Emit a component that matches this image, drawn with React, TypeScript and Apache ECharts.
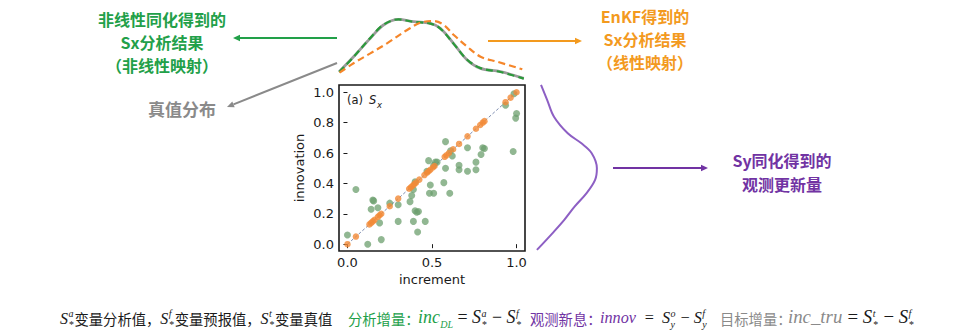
import React, { useEffect, useRef } from "react";
import * as echarts from "echarts";

const W = 957;
const H = 334;

// ---- main scatter data (panel a, S_x) ----
const nonlinX = [0.0, 0.05, 0.12, 0.14, 0.15, 0.155, 0.18, 0.19, 0.2, 0.25, 0.3, 0.3, 0.37, 0.38, 0.39, 0.39, 0.4, 0.41, 0.42, 0.415, 0.4, 0.46, 0.47, 0.48, 0.49, 0.485, 0.51, 0.52, 0.51, 0.53, 0.57, 0.58, 0.58, 0.605, 0.61, 0.62, 0.66, 0.66, 0.71, 0.71, 0.76, 0.76, 0.8, 0.79, 0.81, 0.935, 0.98, 1.0, 0.995, 0.985];
const nonlinY = [0.06, 0.36, 0.0, 0.23, 0.29, 0.285, 0.24, 0.14, 0.03, 0.27, 0.15, 0.26, 0.28, 0.32, 0.15, 0.36, 0.22, 0.21, 0.215, 0.08, 0.41, 0.15, 0.48, 0.55, 0.39, 0.335, 0.335, 0.54, 0.52, 0.54, 0.405, 0.5, 0.675, 0.335, 0.615, 0.58, 0.52, 0.49, 0.635, 0.48, 0.49, 0.54, 0.635, 0.59, 0.63, 0.915, 0.61, 0.86, 0.83, 0.99];
const enkfX = [0.0, 0.05, 0.13, 0.14, 0.15, 0.16, 0.18, 0.19, 0.2, 0.25, 0.3, 0.365, 0.375, 0.385, 0.395, 0.405, 0.425, 0.455, 0.47, 0.48, 0.49, 0.505, 0.515, 0.575, 0.585, 0.6, 0.625, 0.66, 0.71, 0.76, 0.785, 0.8, 0.81, 0.935, 0.965, 1.0];
const enkfY = [0.0, 0.05, 0.13, 0.14, 0.15, 0.16, 0.18, 0.19, 0.2, 0.25, 0.3, 0.365, 0.375, 0.385, 0.395, 0.405, 0.425, 0.455, 0.47, 0.48, 0.49, 0.505, 0.515, 0.575, 0.585, 0.6, 0.625, 0.66, 0.71, 0.76, 0.785, 0.8, 0.81, 0.935, 0.965, 1.0];
const diagX = [0, 1];
const diagY = [0, 1];

// ---- top marginal densities (over increment) ----
const topKdeX = [-0.049, 0.036, 0.135, 0.213, 0.302, 0.391, 0.49, 0.549, 0.627, 0.708, 0.787, 0.905, 1.043];
const trueKde = [0.119, 0.333, 0.596, 0.786, 0.867, 0.833, 0.81, 0.739, 0.524, 0.286, 0.167, 0.119, 0.024];
const nonlinKde = [0.114, 0.329, 0.6, 0.79, 0.866, 0.83, 0.806, 0.735, 0.52, 0.29, 0.17, 0.114, 0.02];
const enkfKdeX = [-0.047, 0.036, 0.135, 0.234, 0.353, 0.432, 0.511, 0.57, 0.629, 0.708, 0.787, 0.886, 1.034];
const enkfKde = [0.104, 0.239, 0.381, 0.524, 0.714, 0.819, 0.843, 0.786, 0.643, 0.476, 0.333, 0.261, 0.153];

// ---- right marginal density (over innovation) ----
const innovKdeY = [1.049, 0.949, 0.839, 0.73, 0.664, 0.599, 0.5, 0.423, 0.336, 0.247, 0.16, 0.083, -0.038];
const innovKde = [0.153, 0.239, 0.333, 0.524, 0.714, 0.857, 0.929, 0.904, 0.786, 0.619, 0.476, 0.333, 0.096];

// ---- ticks ----
const xTicks = [0, 0.5, 1.0];
const yTicks = [0, 0.2, 0.4, 0.6, 0.8, 1.0];

const zip = (a: number[], b: number[]) => a.map((v, i) => [v, b[i]]);

const GREEN = "#22a049";
const ORANGE = "#f39a1e";
const PURPLE = "#7133a3";
const GREY = "#8a8a8a";
const INK = "#1a1a1a";

const CJK = "'Noto Sans CJK SC', sans-serif";
const SERIF = "'Liberation Serif', 'DejaVu Serif', serif";

type Seg = { t: string; k: "c" | "m" | "r" | "p" | "b"; c?: string };

// bottom caption: runs of text, each with its own start (and optional end for math runs)
const captionDefs: Seg[] = [
  { t: "S", k: "m" }, { t: "a", k: "p" }, { t: "*", k: "b" }, { t: "变量分析值，", k: "c" },
  { t: "S", k: "m" }, { t: "f", k: "p" }, { t: "*", k: "b" }, { t: "变量预报值，", k: "c" },
  { t: "S", k: "m" }, { t: "t", k: "p" }, { t: "*", k: "b" }, { t: "变量真值", k: "c" },
];
const captionInc: Seg[] = [
  { t: "inc", k: "m", c: GREEN }, { t: "DL", k: "b", c: GREEN },
  { t: " = ", k: "r" }, { t: "S", k: "m" }, { t: "a", k: "p" }, { t: "*", k: "b" },
  { t: " − ", k: "r" }, { t: "S", k: "m" }, { t: "f", k: "p" }, { t: "*", k: "b" },
];
const captionInnov: Seg[] = [
  { t: "innov", k: "m", c: PURPLE },
  { t: "  =  ", k: "r" }, { t: "S", k: "m" }, { t: "o", k: "p" }, { t: "y", k: "b" },
  { t: " − ", k: "r" }, { t: "S", k: "m" }, { t: "f", k: "p" }, { t: "y", k: "b" },
];
const captionTru: Seg[] = [
  { t: "inc_tru", k: "m", c: GREY },
  { t: " = ", k: "r" }, { t: "S", k: "m" }, { t: "t", k: "p" }, { t: "*", k: "b" },
  { t: " − ", k: "r" }, { t: "S", k: "m" }, { t: "f", k: "p" }, { t: "*", k: "b" },
];

function segStyle(k: Seg["k"], m: number) {
  switch (k) {
    case "c": return { family: CJK, size: 14.3, italic: false, dy: 0 };
    case "m": return { family: SERIF, size: 16 * m, italic: true, dy: 0 };
    case "r": return { family: SERIF, size: 16 * m, italic: false, dy: 0 };
    case "p": return { family: SERIF, size: 10, italic: true, dy: -7.5 };
    case "b": return { family: SERIF, size: 10, italic: true, dy: 3.5 };
  }
}

let measureCtx: CanvasRenderingContext2D | null = null;
function measure(t: string, st: any) {
  if (!measureCtx) measureCtx = document.createElement("canvas").getContext("2d")!;
  measureCtx.font = `${st.italic ? "italic " : ""}${st.size}px ${st.family}`;
  return measureCtx.measureText(t).width;
}

function layoutRun(segs: Seg[], x0: number, baseline: number, m: number, out: any[] | null): number {
  let x = x0;
  const mk = (s: Seg, xx: number) => {
    const st = segStyle(s.k, m)!;
    if (out) {
      out.push({
        type: "text", x: xx, y: baseline + st.dy,
        style: {
          text: s.t, fontFamily: st.family, fontSize: st.size,
          fontStyle: st.italic ? "italic" : "normal",
          fill: s.c || INK, align: "left", verticalAlign: "bottom",
        },
      });
    }
    return measure(s.t, st);
  };
  for (let i = 0; i < segs.length; i++) {
    const s = segs[i];
    if (s.k === "p" && segs[i + 1] && segs[i + 1].k === "b") {
      const w1 = mk(s, x);
      const w2 = mk(segs[i + 1], x);
      x += Math.max(w1, w2) + 1;
      i++;
      continue;
    }
    x += mk(s, x) + (s.k === "m" ? 0.5 : 0);
  }
  return x - x0;
}

// fit a math run between two x positions by scaling its main font size
function fitRun(segs: Seg[], x0: number, x1: number, baseline: number, out: any[]) {
  const w = layoutRun(segs, x0, baseline, 1, null);
  const m = Math.max(0.85, Math.min(1.2, (x1 - x0) / w));
  layoutRun(segs, x0, baseline, m, out);
}

function cjkText(t: string, x: number, baseline: number, color: string) {
  return {
    type: "text", x, y: baseline,
    style: { text: t, fontFamily: CJK, fontSize: 14.3, fill: color, align: "left", verticalAlign: "bottom" },
  };
}

function arrow(x1: number, y1: number, x2: number, y2: number, color: string, w = 2) {
  const ang = Math.atan2(y2 - y1, x2 - x1);
  const L = 7, hw = 3.2;
  const bx = x2 - L * Math.cos(ang), by = y2 - L * Math.sin(ang);
  const nx = -Math.sin(ang), ny = Math.cos(ang);
  return [
    { type: "line", shape: { x1, y1, x2: bx, y2: by }, style: { stroke: color, lineWidth: w } },
    {
      type: "polygon",
      shape: { points: [[x2, y2], [bx + nx * hw, by + ny * hw], [bx - nx * hw, by - ny * hw]] },
      style: { fill: color },
    },
  ];
}

export default function App() {
  const ref = useRef<HTMLDivElement>(null);
  useEffect(() => {
    document.body.style.margin = "0";
    const chart = echarts.init(ref.current!, null, { renderer: "svg" });
    const tickFont = { fontFamily: "'DejaVu Sans', sans-serif", fontSize: 13, color: INK };
    const BL = 326;
    const bottomTexts: any[] = [];
    layoutRun(captionDefs, 60, BL, 1, bottomTexts);
    bottomTexts.push(cjkText("分析增量：", 348, BL, GREEN));
    fitRun(captionInc, 418, 525, BL, bottomTexts);
    bottomTexts.push(cjkText("观测新息：", 530, BL, PURPLE));
    fitRun(captionInnov, 600, 708, BL, bottomTexts);
    bottomTexts.push(cjkText("目标增量：", 720, BL, GREY));
    fitRun(captionTru, 788, 917, BL, bottomTexts);

    const titleTexts: any[] = [
      { type: "text", x: 347, y: 106, style: { text: "(a) ", fontFamily: "'DejaVu Sans'", fontSize: 11.5, fill: INK, verticalAlign: "bottom" } },
      { type: "text", x: 369, y: 106, style: { text: "S", fontFamily: "'DejaVu Sans'", fontStyle: "italic", fontSize: 11.5, fill: INK, verticalAlign: "bottom" } },
      { type: "text", x: 377, y: 109, style: { text: "x", fontFamily: "'DejaVu Sans'", fontStyle: "italic", fontSize: 8.5, fill: INK, verticalAlign: "bottom" } },
    ];
    const annot: any[] = [
      {
        type: "text", x: 162, y: 42,
        style: { text: "非线性同化得到的\nSx分析结果\n（非线性映射）", fontFamily: CJK, fontWeight: "bold", fontSize: 16, lineHeight: 23.3, fill: GREEN, align: "center", verticalAlign: "middle" },
      },
      {
        type: "text", x: 182, y: 108,
        style: { text: "真值分布", fontFamily: CJK, fontWeight: "bold", fontSize: 17, fill: GREY, align: "center", verticalAlign: "middle" },
      },
      {
        type: "text", x: 645, y: 39,
        style: { text: "EnKF得到的\nSx分析结果\n（线性映射）", fontFamily: CJK, fontWeight: "bold", fontSize: 16, lineHeight: 23.3, fill: ORANGE, align: "center", verticalAlign: "middle" },
      },
      {
        type: "text", x: 782, y: 172,
        style: { text: "Sy同化得到的\n观测更新量", fontFamily: CJK, fontWeight: "bold", fontSize: 16, lineHeight: 23.3, fill: PURPLE, align: "center", verticalAlign: "middle" },
      },
      ...arrow(337, 38, 233, 38, GREEN),
      ...arrow(337, 63, 227, 107, GREY),
      ...arrow(488, 41, 582, 41, ORANGE),
      ...arrow(613, 168, 708, 168, PURPLE),
    ];
    const option: any = {
      animation: false,
      backgroundColor: "#ffffff",
      grid: [
        { left: 339, top: 85, width: 186, height: 166, show: true, borderColor: INK, borderWidth: 1.6, backgroundColor: "transparent" },
        { left: 339, top: 10, width: 186, height: 70 },
        { left: 530, top: 85, width: 72, height: 166 },
      ],
      xAxis: [
        {
          gridIndex: 0, type: "value", min: -0.05, max: 1.05,
          axisLine: { show: false }, splitLine: { show: false },
          axisTick: { show: true, customValues: xTicks, length: 4, lineStyle: { color: INK, width: 1 } },
          axisLabel: { customValues: xTicks, formatter: (v: number) => v.toFixed(1), margin: 5, ...tickFont },
          name: "increment", nameLocation: "middle", nameGap: 22,
          nameTextStyle: { ...tickFont },
        },
        { gridIndex: 1, type: "value", min: -0.05, max: 1.05, show: false },
        { gridIndex: 2, type: "value", min: 0, max: 1, show: false },
      ],
      yAxis: [
        {
          gridIndex: 0, type: "value", min: -0.045, max: 1.048,
          axisLine: { show: false }, splitLine: { show: false },
          axisTick: { show: true, customValues: yTicks, length: 4, lineStyle: { color: INK, width: 1 } },
          axisLabel: { customValues: yTicks, formatter: (v: number) => v.toFixed(1), margin: 5, ...tickFont },
          name: "innovation", nameLocation: "middle", nameGap: 33,
          nameTextStyle: { ...tickFont },
        },
        { gridIndex: 1, type: "value", min: 0, max: 1, show: false },
        { gridIndex: 2, type: "value", min: -0.045, max: 1.048, show: false },
      ],
      series: [
        {
          type: "line", xAxisIndex: 0, yAxisIndex: 0, data: zip(diagX, diagY), symbol: "none",
          lineStyle: { color: "#5a6f9a", width: 0.8, type: [3, 2] }, z: 1,
        },
        {
          type: "scatter", xAxisIndex: 0, yAxisIndex: 0, data: zip(nonlinX, nonlinY), symbolSize: 7,
          itemStyle: { color: "#6c9f6e", opacity: 0.75 }, z: 2,
        },
        {
          type: "scatter", xAxisIndex: 0, yAxisIndex: 0, data: zip(enkfX, enkfY), symbolSize: 6.5,
          itemStyle: { color: "#f28a36", opacity: 0.8 }, z: 3,
        },
        {
          type: "line", xAxisIndex: 1, yAxisIndex: 1, data: zip(topKdeX, trueKde), symbol: "none", smooth: 0.35,
          lineStyle: { color: "#9b9b9b", width: 2.8 }, z: 2,
        },
        {
          type: "line", xAxisIndex: 1, yAxisIndex: 1, data: zip(topKdeX, nonlinKde), symbol: "none", smooth: 0.35,
          lineStyle: { color: "#2a9a3a", width: 2.2, type: [7, 4] }, z: 3,
        },
        {
          type: "line", xAxisIndex: 1, yAxisIndex: 1, data: zip(enkfKdeX, enkfKde), symbol: "none", smooth: 0.35,
          lineStyle: { color: "#f5862a", width: 2.2, type: [7, 4] }, z: 4,
        },
        {
          type: "line", xAxisIndex: 2, yAxisIndex: 2, data: zip(innovKde, innovKdeY), symbol: "none", smooth: 0.35,
          lineStyle: { color: "#8d5fc4", width: 2 }, z: 2,
        },
      ],
      graphic: [...annot, ...titleTexts, ...bottomTexts],
    };
    chart.setOption(option);
    return () => chart.dispose();
  }, []);
  return <div ref={ref} style={{ width: W, height: H, position: "absolute", left: 0, top: 0 }} />;
}
